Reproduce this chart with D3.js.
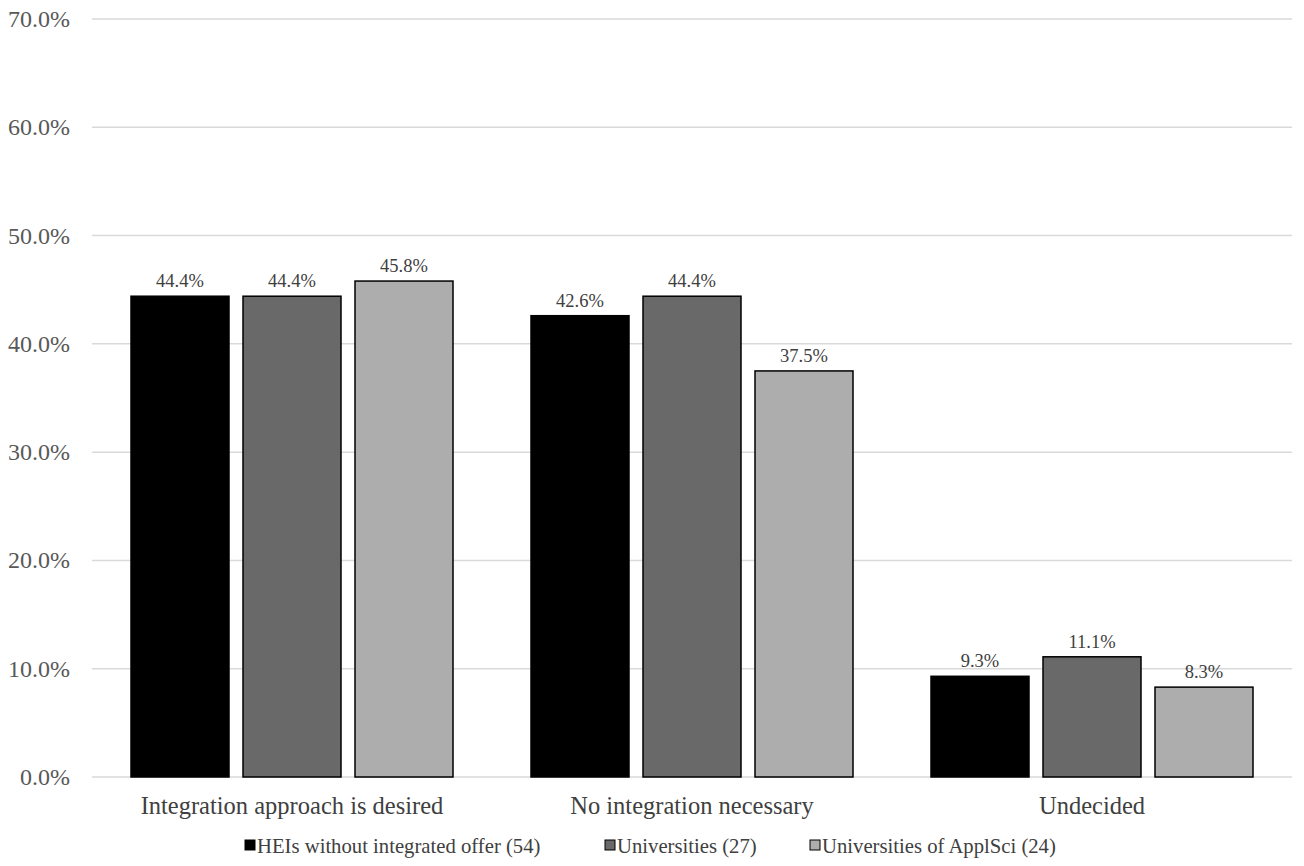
<!DOCTYPE html>
<html><head><meta charset="utf-8">
<script src="https://cdn.jsdelivr.net/npm/d3@7"></script>
<style>body{margin:0;background:#fff}svg{display:block}</style>
</head><body><svg id="c" width="1304" height="866" font-family="Liberation Serif, DejaVu Serif, serif"></svg>
<script>
const categories = ["Integration approach is desired","No integration necessary","Undecided"];
const seriesNames = ["HEIs without integrated offer (54)","Universities (27)","Universities of ApplSci (24)"];
const seriesColors = ["#000000","#696969","#adadad"];
const hei = [44.4, 42.6, 9.3];
const uni = [44.4, 44.4, 11.1];
const uas = [45.8, 37.5, 8.3];
const yTicks = [0,10,20,30,40,50,60,70];
const series = [hei, uni, uas];

(function(){
const svg = d3.select("#c");
const pl = 92, pr = 1292, pt = 19, pb = 777;
const y = d3.scaleLinear().domain([0,70]).range([pb, pt]);
const x0 = d3.scaleBand().domain(categories).range([pl, pr]).paddingInner(0).paddingOuter(0);
const x1 = d3.scaleBand().domain(d3.range(3)).range([39, 400-39]).paddingInner(0.125).paddingOuter(0);

svg.append("g").selectAll("line").data(yTicks).join("line")
  .attr("x1", pl).attr("x2", pr).attr("y1", d=>y(d)).attr("y2", d=>y(d))
  .attr("stroke", "#d9d9d9").attr("stroke-width", 1.5);

svg.append("g").selectAll("text").data(yTicks).join("text")
  .attr("x", 70).attr("y", d=>y(d)+8).attr("text-anchor","end")
  .attr("font-size", 24).attr("fill","#595959").text(d=>d.toFixed(1)+"%");

const g = svg.append("g");
categories.forEach((c, ci) => {
  series.forEach((s, si) => {
    const bx = x0(c) + x1(si);
    g.append("rect").attr("x", bx).attr("y", y(s[ci])).attr("width", x1.bandwidth())
      .attr("height", y(0)-y(s[ci])).attr("fill", seriesColors[si]).attr("stroke","#000").attr("stroke-width",1.5);
    g.append("text").attr("x", bx + x1.bandwidth()/2).attr("y", y(s[ci]) - 9)
      .attr("text-anchor","middle").attr("font-size",18.5).attr("fill","#404040").text(s[ci].toFixed(1)+"%");
  });
  svg.append("text").attr("x", x0(c)+x0.bandwidth()/2).attr("y", 814).attr("text-anchor","middle")
    .attr("font-size",24.5).attr("fill","#404040").text(c);
});

const legX = [245, 605, 810];
const lg = svg.append("g");
seriesNames.forEach((n,i)=>{
  lg.append("rect").attr("x", legX[i]).attr("y", 840).attr("width",10).attr("height",10)
    .attr("fill", seriesColors[i]).attr("stroke","#000").attr("stroke-width",1);
  lg.append("text").attr("x", legX[i]+12).attr("y", 853).attr("font-size",20.7).attr("fill","#404040").text(n);
});
})();
</script></body></html>
